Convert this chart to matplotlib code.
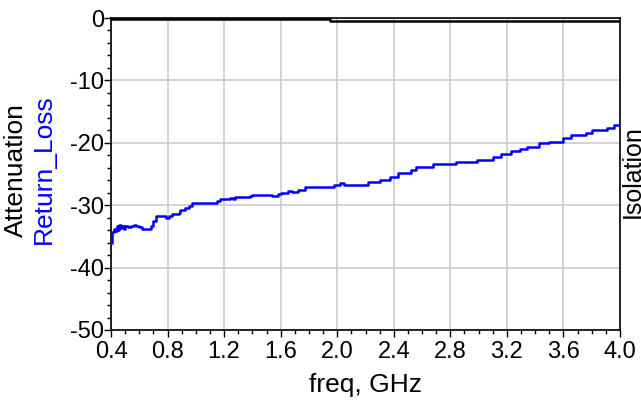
import matplotlib
matplotlib.use("Agg")
import matplotlib.pyplot as plt
from matplotlib.ticker import MultipleLocator

plt.rcParams['font.family'] = ['Liberation Sans', 'DejaVu Sans']
plt.rcParams['axes.unicode_minus'] = False

# Return loss (blue) data, dB vs GHz
rl_freq = [0.400, 0.405, 0.41, 0.42, 0.43, 0.44, 0.45, 0.46, 0.47, 0.48, 0.49, 0.50,
           0.52, 0.54, 0.56, 0.58, 0.60, 0.62, 0.66, 0.68, 0.70, 0.72, 0.78, 0.79,
           0.81, 0.83, 0.88, 0.89, 0.92, 0.95, 0.97, 1.10, 1.15, 1.17, 1.24, 1.26,
           1.28, 1.38, 1.40, 1.45, 1.52, 1.54, 1.56, 1.58, 1.60, 1.65, 1.68, 1.70,
           1.72, 1.77, 1.96, 1.98, 2.02, 2.05, 2.20, 2.22, 2.30, 2.37, 2.43, 2.52,
           2.56, 2.68, 2.84, 2.99, 3.10, 3.16, 3.23, 3.29, 3.34, 3.43, 3.50, 3.60,
           3.65, 3.76, 3.80, 3.91, 3.96, 4.00]
rl_db = [-36.0, -34.8, -34.3, -33.8, -34.2, -33.3, -33.9, -33.2, -33.7, -33.3, -33.8, -33.4,
         -33.5, -33.3, -33.1, -33.4, -33.5, -33.8, -33.8, -33.4, -32.6, -31.8, -31.7, -32.0,
         -31.7, -31.4, -31.3, -30.8, -30.4, -30.2, -29.7, -29.6, -29.3, -29.0, -28.8, -29.0,
         -28.7, -28.6, -28.4, -28.3, -28.3, -28.6, -28.6, -28.2, -28.0, -27.7, -27.9, -27.9,
         -27.5, -27.1, -27.1, -26.8, -26.4, -26.8, -26.8, -26.3, -25.9, -25.5, -24.9, -24.4,
         -23.9, -23.4, -23.1, -22.7, -22.3, -21.8, -21.3, -21.0, -20.6, -20.1, -19.8, -19.3,
         -18.8, -18.4, -18.0, -17.7, -17.2, -17.2]

# Attenuation (black) data
att_freq = [0.4, 1.95, 1.95, 4.0]
att_db = [-0.15, -0.15, -0.45, -0.45]

x_ticks = [0.4, 0.8, 1.2, 1.6, 2.0, 2.4, 2.8, 3.2, 3.6, 4.0]
y_ticks = [0, -10, -20, -30, -40, -50]

fig = plt.figure(figsize=(6.41, 4.01), dpi=100)
ax = fig.add_axes([111/641, 1-330/401, (620-111)/641, (330-18)/401])

ax.plot(rl_freq, rl_db, color='#0000ff', lw=1.8, drawstyle='steps-post', zorder=3)
ax.plot(att_freq, att_db, color='black', lw=1.8, zorder=3)

ax.set_xlim(0.4, 4.0)
ax.set_ylim(-50, 0)
ax.set_xticks(x_ticks)
ax.set_xticklabels([f"{v:.1f}" for v in x_ticks])
ax.set_yticks(y_ticks)
ax.set_yticklabels([str(v) for v in y_ticks])
ax.xaxis.set_minor_locator(MultipleLocator(0.1))
ax.yaxis.set_minor_locator(MultipleLocator(2))

ax.grid(True, which='major', color='#cccccc', lw=1.2)
ax.set_axisbelow(True)
for s in ax.spines.values():
    s.set_color('black')
    s.set_linewidth(1.2)

ax.tick_params(axis='both', which='major', labelsize=17, length=5, width=1, pad=0, direction='out')
ax.tick_params(axis='x', which='major', pad=3)
ax.tick_params(axis='both', which='minor', length=3, width=1, direction='out')

ax.set_xlabel('freq, GHz', fontsize=19, labelpad=7)

fig.text(16/641, 1-170/401, 'Attenuation', rotation=90, color='black', fontsize=19,
         ha='center', va='center')
fig.text(44/641, 1-169/401, 'Return_Loss', rotation=90, color='#0000ff', fontsize=19,
         ha='center', va='center')
fig.text(620.5/641, 1-172/401, 'Isolation', rotation=90, color='black', fontsize=18,
         ha='left', va='center')

fig.savefig('out.png', dpi=100)
